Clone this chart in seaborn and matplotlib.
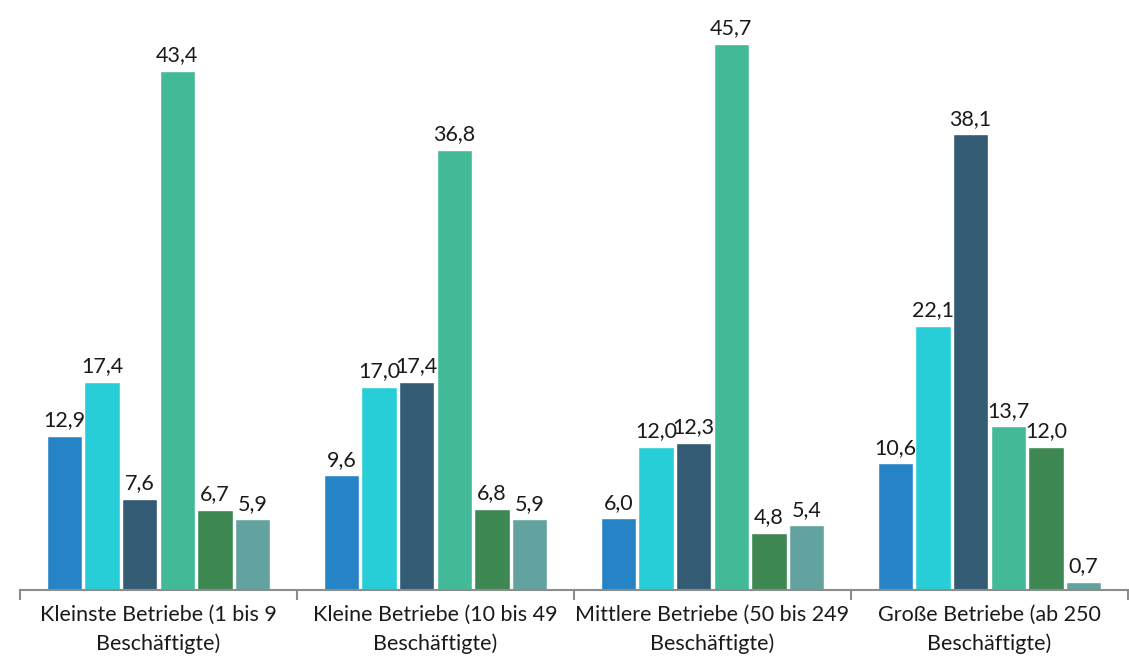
import matplotlib
matplotlib.use("Agg")
import matplotlib.pyplot as plt
import seaborn as sns
import pandas as pd
from matplotlib.ticker import FixedLocator

# Betriebsgrößenklassen
categories = [
    "Kleinste Betriebe (1 bis 9\nBeschäftigte)",
    "Kleine Betriebe (10 bis 49\nBeschäftigte)",
    "Mittlere Betriebe (50 bis 249\nBeschäftigte)",
    "Große Betriebe (ab 250\nBeschäftigte)",
]

# Anteile in Prozent je Reihe
series_names = ["Reihe 1", "Reihe 2", "Reihe 3", "Reihe 4", "Reihe 5", "Reihe 6"]
series_values = [
    [12.9, 9.6, 6.0, 10.6],
    [17.4, 17.0, 12.0, 22.1],
    [7.6, 17.4, 12.3, 38.1],
    [43.4, 36.8, 45.7, 13.7],
    [6.7, 6.8, 4.8, 12.0],
    [5.9, 5.9, 5.4, 0.7],
]
colors = ["#2683C6", "#27CED7", "#335B74", "#42BA97", "#3E8853", "#62A39F"]

rows = []
for name, vals in zip(series_names, series_values):
    for cat, v in zip(categories, vals):
        rows.append({"Kategorie": cat, "Reihe": name, "Wert": v})
df = pd.DataFrame(rows)

sns.set_theme(style="white")
plt.rcParams["font.family"] = ["Lato", "DejaVu Sans"]

fig = plt.figure(figsize=(11.29, 6.62), dpi=100)
ax = fig.add_axes([20 / 1129, 1 - 590 / 662, 1108 / 1129, (590 - 16) / 662])

sns.barplot(
    data=df, x="Kategorie", y="Wert", hue="Reihe",
    order=categories, hue_order=series_names,
    palette=colors, saturation=1, width=0.816, gap=0.06,
    edgecolor="white", linewidth=1.0,
    errorbar=None, legend=False, ax=ax,
)

for container in ax.containers:
    vals = container.datavalues
    ax.bar_label(
        container,
        labels=[f"{v:.1f}".replace(".", ",") for v in vals],
        padding=4, fontsize=15.5, color="#1a1a1a",
    )

ax.set_xlim(-0.5, 3.5)
ax.set_ylim(0, 48)
ax.set_xlabel("")
ax.set_ylabel("")
ax.set_yticks([])

for side in ["top", "right", "left"]:
    ax.spines[side].set_visible(False)
ax.spines["bottom"].set_color("#8c8c8c")
ax.spines["bottom"].set_linewidth(1.5)

ax.tick_params(axis="x", which="major", length=0, pad=11, labelsize=15.5,
               labelcolor="#1a1a1a")
ax.xaxis.set_minor_locator(FixedLocator([-0.5, 0.5, 1.5, 2.5, 3.5]))
ax.tick_params(axis="x", which="minor", length=7, width=1.5, color="#8c8c8c",
               direction="out", bottom=True)
for lbl in ax.get_xticklabels():
    lbl.set_linespacing(1.5)

fig.savefig("out.png", dpi=100)
